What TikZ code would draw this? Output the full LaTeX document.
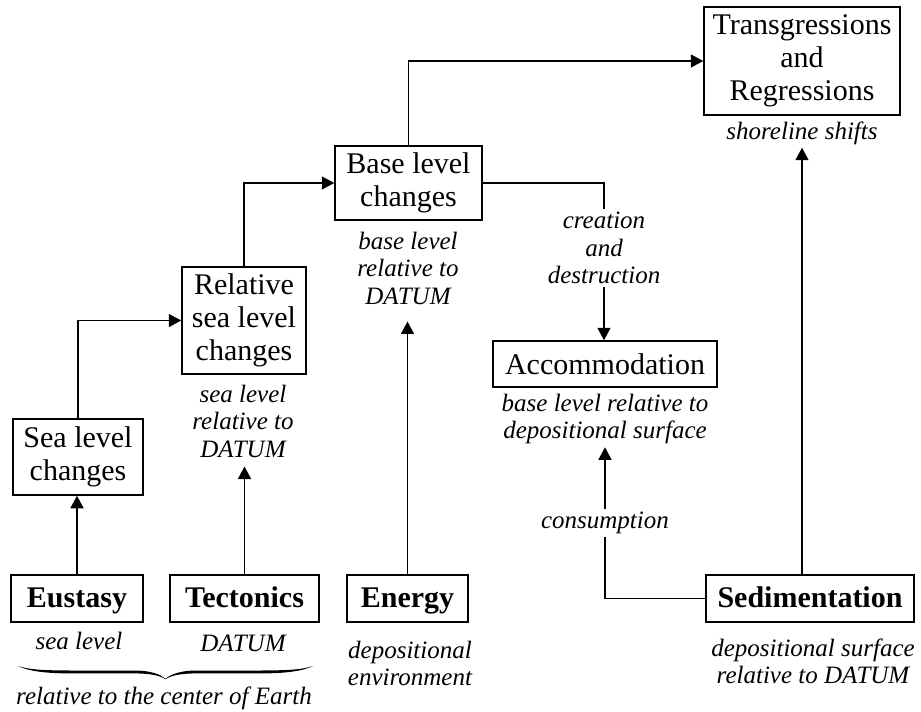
\documentclass[tikz,border=0pt]{standalone}
\usepackage{fontspec}
\setmainfont{Liberation Serif}
\usetikzlibrary{arrows.meta}
\begin{document}
\begin{tikzpicture}[x=1pt,y=-1pt,
  box/.style={draw, line width=1.5pt, inner sep=0pt, align=center,
    font=\fontsize{30}{33}\selectfont},
  boldbox/.style={box, font=\fontsize{30}{33}\selectfont\bfseries,
    text height=23pt, text depth=5pt},
  note/.style={inner sep=3pt, align=center,
    font=\fontsize{25}{27.5}\selectfont\itshape},
  link/.style={line width=1.5pt},
  arr/.style={link, -{Triangle[length=12.5pt,width=13pt]}},
]
\useasboundingbox (0,0) rectangle (921,712);

% boxes
\node[box, minimum width=130pt, minimum height=76pt] (sea) at (78,457) {Sea level\\changes};
\node[box, minimum width=124pt, minimum height=107pt] (rel) at (244,320.5) {Relative\\sea level\\changes};
\node[box, minimum width=147pt, minimum height=74pt] (base) at (408.5,183) {Base level\\changes};
\node[box, minimum width=196pt, minimum height=108pt] (tr) at (802,61) {Transgressions\\and\\Regressions};
\node[box, minimum width=224pt, minimum height=46pt] (acc) at (605,364) {Accommodation};
\node[boldbox, minimum width=132pt, minimum height=47pt] (eus) at (77,598.5) {Eustasy};
\node[boldbox, minimum width=149pt, minimum height=47pt] (tec) at (244.5,598.5) {Tectonics};
\node[boldbox, minimum width=121pt, minimum height=47pt] (ene) at (407.5,598.5) {Energy};
\node[boldbox, minimum width=208pt, minimum height=47pt] (sed) at (810,598.5) {Sedimentation};

% italic notes
\node[note, anchor=base] (sealab) at (79,649) {sea level};
\node[note, anchor=base] (teclab) at (243,651) {DATUM};
\node[note] (earth) at (164,698) {relative to the center of Earth};
\node[note] (rellab) at (243,421) {sea level\\relative to\\DATUM};
\node[note] (baselab) at (408,268) {base level\\relative to\\DATUM};
\node[note] (credes) at (604,248) {creation\\and\\destruction};
\node[note] (acclab) at (605,419) {base level relative to\\depositional surface};
\node[note] (cons) at (605,523) {consumption};
\node[note] (sedlab) at (813,661.5) {depositional surface\\relative to DATUM};
\node[note] (enelab) at (410,663.5) {depositional\\environment};
\node[note] (trlab) at (802,133) {shoreline shifts};

% tapered curly brace under the two reference frames
\fill (18,666) .. controls (30,670) and (45,670.3) .. (70,670.5)
  -- (135,670.5) .. controls (150,670.6) and (160,674) .. (165.5,678.8)
  .. controls (171,674) and (181,670.6) .. (196,670.5)
  -- (261,670.5) .. controls (286,670.3) and (301,670) .. (313,666)
  .. controls (303,671) and (286,673.4) .. (261,673.4)
  -- (196,673.4) .. controls (182,673.5) and (172,675) .. (165.5,679.2)
  .. controls (159,675) and (149,673.5) .. (135,673.4)
  -- (70,673.4) .. controls (45,673.4) and (28,671) .. (18,666) -- cycle;

% connectors
\draw[arr] (eus.north) -- (eus.north |- sea.south);
\draw[arr, shorten >=6pt] (tec.north) -- (tec.north |- rellab.south);
\draw[arr] (sea.north) |- (rel.west);
\draw[arr] (rel.north) |- (base.west);
\draw[arr] (base.north) |- (tr.west);
\draw[link] (base.east) -| (credes.north);
\draw[arr] (credes.south) -- (credes.south |- acc.north);
\draw[arr, shorten >=14pt] (ene.north) -- (ene.north |- baselab.south);
\draw[link] (sed.west) -| (cons.south);
\draw[arr] (cons.north) -- (cons.north |- acclab.south);
\draw[arr] (trlab.south |- sed.north) -- (trlab.south);
\end{tikzpicture}
\end{document}
